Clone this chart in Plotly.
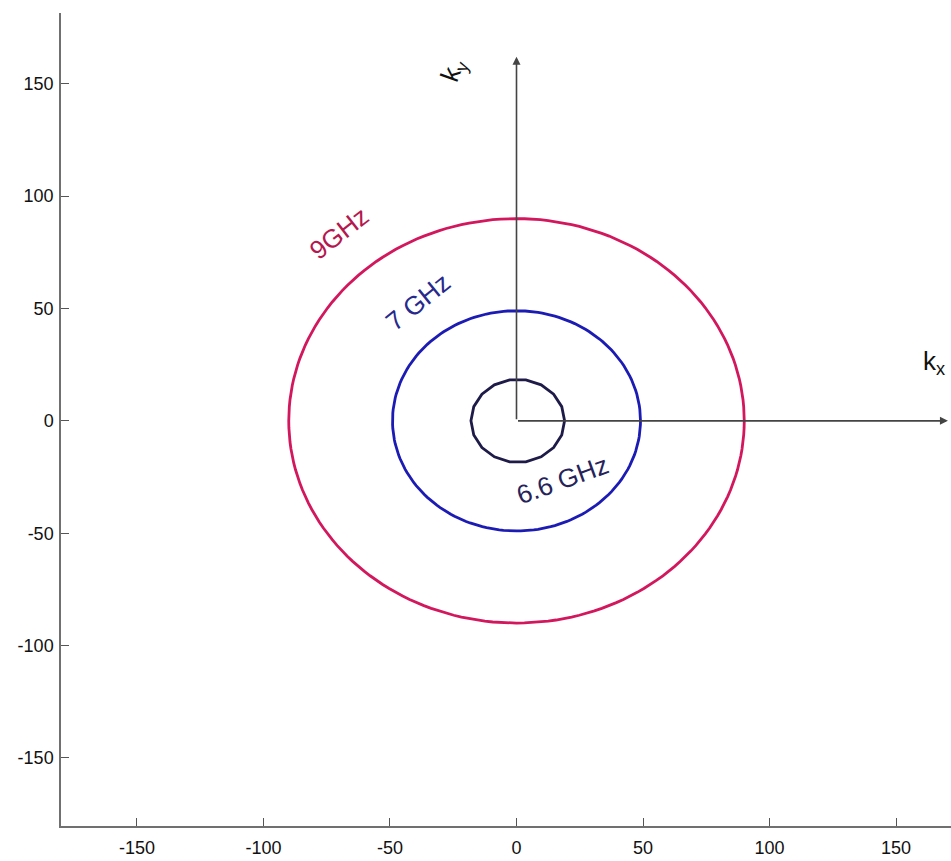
import numpy as np
import plotly.graph_objects as go

# Data
freq_labels = ["9GHz", "7 GHz", "6.6 GHz"]
radii = [90.0, 49.0, 18.5]
centers_x = [0.0, 0.0, 0.5]
centers_y = [0.0, 0.0, 0.0]
n_points = [181, 181, 19]
line_colors = ["#d3175c", "#1c1cb4", "#1e1b48"]
text_colors = ["#b5174f", "#272a8c", "#25235a"]

label_x = [-70.0, -39.0, 18.0]
label_y = [83.5, 53.0, -26.5]
label_angle = [-38, -39, -20]

x_ticks = [-150, -100, -50, 0, 50, 100, 150]
y_ticks = [-150, -100, -50, 0, 50, 100, 150]
x_tick_text = ["-150", "-100", "-50", "0", "50", "100", "150"]
y_tick_text = ["-150", "-100", "-50", "0", "50", "100", "150"]

fig = go.Figure()
for r, cx, cy, n, col in zip(radii, centers_x, centers_y, n_points, line_colors):
    t = np.linspace(0, 2 * np.pi, n)
    fig.add_trace(go.Scatter(x=cx + r * np.cos(t), y=cy + r * np.sin(t), mode="lines",
                             line=dict(color=col, width=2.8), showlegend=False,
                             hoverinfo="skip"))

for txt, x, y, a, c in zip(freq_labels, label_x, label_y, label_angle, text_colors):
    fig.add_annotation(x=x, y=y, text=txt, showarrow=False, textangle=a,
                       font=dict(family="Liberation Sans, Arial", size=26, color=c))

# k-space axes arrows
fig.add_annotation(x=170.5, y=0, ax=0, ay=0, xref="x", yref="y", axref="x", ayref="y",
                   showarrow=True, arrowhead=2, arrowsize=1, arrowwidth=1.6,
                   arrowcolor="#444444", text="")
fig.add_annotation(x=0, y=162, ax=0, ay=0, xref="x", yref="y", axref="x", ayref="y",
                   showarrow=True, arrowhead=2, arrowsize=1, arrowwidth=1.6,
                   arrowcolor="#444444", text="")
fig.add_annotation(x=165, y=26, text="k<sub>x</sub>", showarrow=False,
                   font=dict(family="Liberation Sans, Arial", size=26, color="#111111"))
fig.add_annotation(x=-25, y=156, text="k<sub>y</sub>", showarrow=False, textangle=-70,
                   font=dict(family="Liberation Sans, Arial", size=26, color="#111111"))

axis_common = dict(showgrid=False, zeroline=False, showline=True, linecolor="#707070",
                   linewidth=1.5, ticks="inside", ticklen=8, tickcolor="#555555",
                   tickwidth=1.2, mirror=False,
                   tickfont=dict(family="Liberation Sans, Arial", size=18, color="#111111"))

fig.update_layout(
    width=951, height=861,
    margin=dict(l=61, r=0, t=13, b=35),
    paper_bgcolor="white", plot_bgcolor="white",
    xaxis=dict(range=[-180, 171.7], tickvals=x_ticks, ticktext=x_tick_text,
               ticklabelstandoff=5, **axis_common),
    yaxis=dict(range=[-180.3, 181.5], tickvals=y_ticks, ticktext=y_tick_text,
               ticklabelstandoff=2, **axis_common),
)

fig.write_html("out.html", config={"displayModeBar": False},
               post_script="document.body.style.margin='0';document.body.style.overflow='hidden';")
